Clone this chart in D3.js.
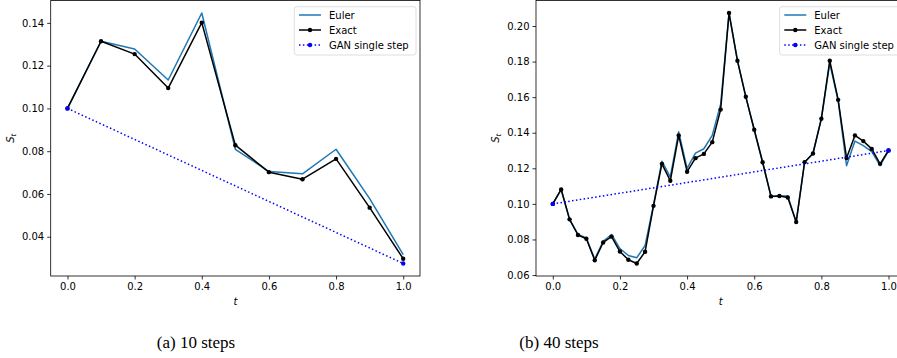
<!DOCTYPE html>
<html>
<head>
<meta charset="utf-8">
<script src="https://cdn.jsdelivr.net/npm/d3@7"></script>
<style>
body { margin: 0; background: #fff; }
text { font-family: "DejaVu Sans", sans-serif; fill: #000; }
</style>
</head>
<body>
<svg id="chart" width="897" height="358"></svg>
<script>
// (a) 10 steps
const tA = [0, 0.1, 0.2, 0.3, 0.4, 0.5, 0.6, 0.7, 0.8, 0.9, 1.0];
const eulerA = [0.100, 0.1314, 0.1278, 0.1133, 0.1446, 0.0809, 0.0705, 0.0694, 0.0809, 0.0578, 0.0316];
const exactA = [0.100, 0.1314, 0.1254, 0.1095, 0.1401, 0.0828, 0.0702, 0.0669, 0.0764, 0.0536, 0.0297];
const ganTA = [0, 1];
const ganA = [0.100, 0.0275];

// (b) 40 steps
const tB = [0, 0.025, 0.05, 0.075, 0.1, 0.125, 0.15, 0.175, 0.2, 0.225,
            0.25, 0.275, 0.3, 0.325, 0.35, 0.375, 0.4, 0.425, 0.45, 0.475,
            0.5, 0.525, 0.55, 0.575, 0.6, 0.625, 0.65, 0.675, 0.7, 0.725,
            0.75, 0.775, 0.8, 0.825, 0.85, 0.875, 0.9, 0.925, 0.95, 0.975, 1.0];
const eulerB = [0.100, 0.1081, 0.0913, 0.0828, 0.0808, 0.0690, 0.0790, 0.0828, 0.0749, 0.0710,
                0.0697, 0.0766, 0.0995, 0.1240, 0.1150, 0.1405, 0.1200, 0.1285, 0.1310, 0.1385,
                0.1560, 0.2073, 0.1805, 0.1602, 0.1417, 0.1234, 0.1042, 0.1046, 0.1045, 0.0898,
                0.1234, 0.1283, 0.1479, 0.1790, 0.1580, 0.1215, 0.1353, 0.1328, 0.1294, 0.1215, 0.1300];
const exactB = [0.100, 0.1081, 0.0913, 0.0825, 0.0804, 0.0683, 0.0783, 0.0816, 0.0732, 0.0686,
                0.0665, 0.0731, 0.0989, 0.1225, 0.1130, 0.1385, 0.1181, 0.1257, 0.1281, 0.1347,
                0.1530, 0.2073, 0.1805, 0.1602, 0.1417, 0.1234, 0.1042, 0.1044, 0.1036, 0.0898,
                0.1234, 0.1283, 0.1479, 0.1805, 0.1585, 0.1258, 0.1385, 0.1353, 0.1309, 0.1225, 0.1300];
const ganTB = [0, 1];
const ganB = [0.100, 0.130];

const xTicks = [0, 0.2, 0.4, 0.6, 0.8, 1.0];
const yTicksA = [0.04, 0.06, 0.08, 0.10, 0.12, 0.14];
const yTicksB = [0.06, 0.08, 0.10, 0.12, 0.14, 0.16, 0.18, 0.20];
const legendLabels = ["Euler", "Exact", "GAN single step"];
const captions = ["(a) 10 steps", "(b) 40 steps"];

const eulerColor = "#1f77b4", ganColor = "#0000ff";
const svg = d3.select("#chart");

let styleAxis = g => {
    g.select(".domain").remove();
    g.selectAll(".tick line").attr("stroke", "#000").attr("stroke-width", 0.8);
    g.selectAll(".tick text").attr("fill", "#000");
    g.attr("font-family", "DejaVu Sans").attr("font-size", 10);
};

let panel = (box, p) => {
    const x = d3.scaleLinear().domain([-0.05, 1.05]).range([0, box.w]);
    const [lo, hi] = d3.extent(p.euler.concat(p.exact, p.gan));
    const pad = (hi - lo) * 0.05;
    const y = d3.scaleLinear().domain([lo - pad, hi + pad]).range([box.h, 0]);

    const g = svg.append("g")
        .attr("transform", `translate(${box.x}, ${box.y})`);

    g.append("g")
        .attr("transform", `translate(0, ${box.h})`)
        .call(d3.axisBottom(x).tickValues(xTicks).tickFormat(d3.format(".1f"))
              .tickSize(3.5).tickPadding(3))
        .call(styleAxis);

    g.append("g")
        .call(d3.axisLeft(y).tickValues(p.yTicks).tickFormat(d3.format(".2f"))
              .tickSize(3.5).tickPadding(3))
        .call(styleAxis);

    // axis labels
    g.append("text")
        .attr("x", box.w / 2).attr("y", box.h + 29)
        .attr("text-anchor", "middle").attr("font-size", 10)
        .attr("font-style", "italic").text("t");

    const yl = g.append("text")
        .attr("transform", `translate(-37, ${box.h / 2}) rotate(-90)`)
        .attr("text-anchor", "middle").attr("font-size", 10);
    yl.append("tspan").attr("font-style", "italic").text("S");
    yl.append("tspan").attr("font-style", "italic").attr("font-size", 7)
        .attr("dy", 2).text("t");

    const line = d3.line().x(d => x(d[0])).y(d => y(d[1]));
    const zip = (a, b) => a.map((v, i) => [v, b[i]]);

    const eul = zip(p.t, p.euler), exa = zip(p.t, p.exact), gan = zip(p.ganT, p.gan);

    g.append("path").attr("d", line(eul))
        .attr("fill", "none").attr("stroke", eulerColor)
        .attr("stroke-width", 1.5).attr("stroke-linejoin", "round");

    g.append("path").attr("d", line(exa))
        .attr("fill", "none").attr("stroke", "#000")
        .attr("stroke-width", 1.5).attr("stroke-linejoin", "round");
    g.selectAll(".exact").data(exa).enter().append("circle")
        .attr("class", "exact")
        .attr("cx", d => x(d[0])).attr("cy", d => y(d[1]))
        .attr("r", 2.2).attr("fill", "#000");

    g.append("path").attr("d", line(gan))
        .attr("fill", "none").attr("stroke", ganColor)
        .attr("stroke-width", 1.5).attr("stroke-dasharray", "1.5,2.4");
    g.selectAll(".gan").data(gan).enter().append("circle")
        .attr("class", "gan")
        .attr("cx", d => x(d[0])).attr("cy", d => y(d[1]))
        .attr("r", 2.2).attr("fill", ganColor);

    // spines
    g.append("rect")
        .attr("width", box.w).attr("height", box.h)
        .attr("fill", "none").attr("stroke", "#000").attr("stroke-width", 0.8);

    // legend
    const lg = g.append("g").attr("transform", `translate(${box.w - 125.7}, 6.2)`);
    lg.append("rect")
        .attr("width", 121.7).attr("height", 48.3).attr("rx", 2.5)
        .attr("fill", "#fff").attr("fill-opacity", 0.8)
        .attr("stroke", "#d6d6d6").attr("stroke-width", 0.8);
    const styles = [
        {stroke: eulerColor, dash: null, marker: null},
        {stroke: "#000", dash: null, marker: "#000"},
        {stroke: ganColor, dash: "1.5,2.4", marker: ganColor}
    ];
    legendLabels.forEach((lab, i) => {
        const ry = 8.3 + i * 15;
        const s = styles[i];
        lg.append("line")
            .attr("x1", 4.7).attr("x2", 26.7).attr("y1", ry).attr("y2", ry)
            .attr("stroke", s.stroke).attr("stroke-width", 1.5)
            .attr("stroke-dasharray", s.dash);
        if (s.marker) lg.append("circle")
            .attr("cx", 15.7).attr("cy", ry).attr("r", 2.2).attr("fill", s.marker);
        lg.append("text")
            .attr("x", 34.7).attr("y", ry + 3.6)
            .attr("font-size", 10).text(lab);
    });
};

panel({x: 50.7, y: 0.5, w: 369.3, h: 275.5},
      {t: tA, euler: eulerA, exact: exactA, ganT: ganTA, gan: ganA, yTicks: yTicksA});
panel({x: 536, y: 0.5, w: 369.3, h: 275.5},
      {t: tB, euler: eulerB, exact: exactB, ganT: ganTB, gan: ganB, yTicks: yTicksB});

// sub-captions
svg.selectAll(".caption").data(captions).enter().append("text")
    .attr("class", "caption")
    .attr("x", (d, i) => [196, 559][i]).attr("y", 348)
    .attr("text-anchor", "middle")
    .style("font-family", "'Liberation Serif', serif")
    .attr("font-size", 17)
    .text(d => d);
</script>
</body>
</html>
